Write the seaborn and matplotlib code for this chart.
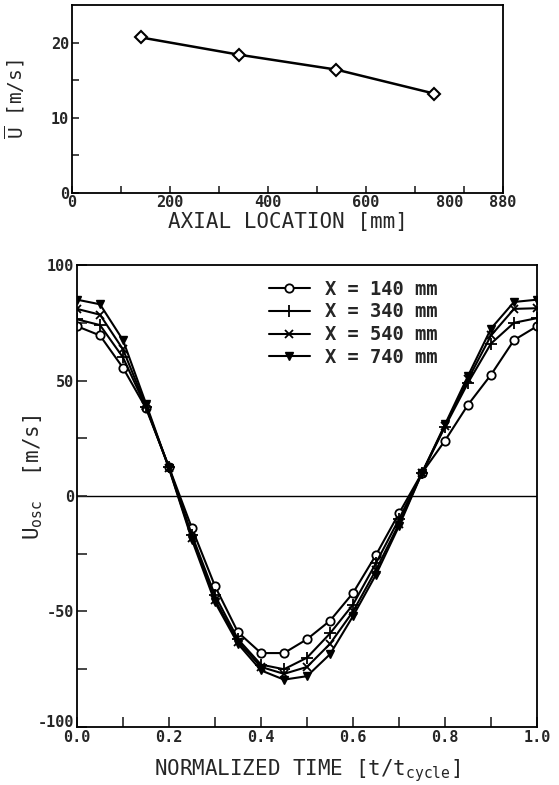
import matplotlib
matplotlib.use("Agg")
import matplotlib.pyplot as plt
import matplotlib.transforms as mtransforms
import seaborn as sns
import pandas as pd
import numpy as np
from matplotlib.ticker import MultipleLocator, FixedLocator

sns.set_theme(style="ticks")
plt.rcParams["font.family"] = ["DejaVu Sans Mono", "DejaVu Sans"]
plt.rcParams["mathtext.fontset"] = "custom"
plt.rcParams["mathtext.rm"] = "DejaVu Sans Mono"

# Mean velocity along the duct
axial_mm = [140, 340, 540, 740]
u_mean = [20.7, 18.4, 16.4, 13.2]

# Oscillating velocity over one normalized cycle
t_norm = [0.00, 0.05, 0.10, 0.15, 0.20, 0.25, 0.30, 0.35, 0.40, 0.45, 0.50,
          0.55, 0.60, 0.65, 0.70, 0.75, 0.80, 0.85, 0.90, 0.95, 1.00]
u_140 = [73.5, 69.5, 55.5, 38.0, 12.5, -14.0, -39.0, -59.0, -68.0, -68.0, -62.0,
         -54.0, -42.0, -25.5, -7.5, 10.0, 24.0, 39.5, 52.5, 67.5, 73.5]
u_340 = [76.5, 74.0, 60.0, 38.5, 12.5, -17.0, -43.0, -62.0, -73.0, -75.0, -70.0,
         -59.5, -47.0, -29.0, -10.0, 10.0, 30.0, 49.0, 66.0, 75.0, 77.0]
u_540 = [81.0, 78.5, 63.5, 39.0, 12.0, -18.0, -45.0, -63.0, -74.0, -77.0, -74.0,
         -64.0, -50.0, -32.0, -12.0, 10.0, 30.5, 50.5, 69.5, 81.0, 81.3]
u_740 = [85.0, 83.0, 67.5, 40.0, 12.0, -19.0, -46.0, -64.0, -75.5, -79.5, -78.0,
         -68.5, -52.0, -34.0, -13.0, 10.0, 31.0, 52.0, 72.5, 84.0, 85.0]
series_labels = ["X = 140 mm", "X = 340 mm", "X = 540 mm", "X = 740 mm"]

fig = plt.figure(figsize=(5.59, 7.85), dpi=100)
ax1 = fig.add_axes([0.1288, 0.7545, 0.771, 0.239])
ax2 = fig.add_axes([0.1377, 0.0739, 0.823, 0.5885])

tick_font = dict(fontsize=11, fontweight="bold")


def shift_label(label, dx_in, dy_in):
    label.set_transform(label.get_transform() +
                        mtransforms.ScaledTranslation(dx_in, dy_in, fig.dpi_scale_trans))


# ---- top panel ----
df_top = pd.DataFrame({"x": axial_mm, "u": u_mean})
sns.lineplot(data=df_top, x="x", y="u", ax=ax1, color="black", lw=1.8,
             marker="D", markersize=6.5, markerfacecolor="white",
             markeredgecolor="black", markeredgewidth=1.5)
ax1.set_xlim(0, 880)
ax1.set_ylim(0, 25)
ax1.xaxis.set_major_locator(FixedLocator([0, 200, 400, 600, 800, 880]))
ax1.xaxis.set_minor_locator(FixedLocator([100, 300, 500, 700]))
ax1.yaxis.set_major_locator(FixedLocator([0, 10, 20]))
ax1.yaxis.set_minor_locator(FixedLocator([5, 15]))
ax1.set_xticklabels(["0", "200", "400", "600", "800", "880"], **tick_font)
ax1.set_yticklabels(["0", "10", "20"], **tick_font)
ax1.tick_params(which="both", direction="in", length=5, width=1.2, pad=2)
# nudge the 800 label left so it clears the 880 end label
shift_label(ax1.get_xticklabels()[4], -0.14, 0)
ax1.set_xlabel("AXIAL LOCATION [mm]", fontsize=15, labelpad=1)
ax1.set_ylabel(r"$\overline{\rm U}$ [m/s]", fontsize=14)
ax1.yaxis.set_label_coords(-0.105, 0.5)

# ---- bottom panel ----
styles = [dict(marker="o", mfc="white", ms=6, mew=1.3),
          dict(marker="+", mfc="black", ms=8, mew=1.3),
          dict(marker="x", mfc="black", ms=6, mew=1.3),
          dict(marker="v", mfc="black", ms=6, mew=1.0)]
for vals, lab, st in zip([u_140, u_340, u_540, u_740], series_labels, styles):
    d = pd.DataFrame({"t": t_norm, "u": vals})
    sns.lineplot(data=d, x="t", y="u", ax=ax2, color="black", lw=1.5,
                 marker=st["marker"], markersize=st["ms"],
                 markerfacecolor=st["mfc"], markeredgecolor="black",
                 markeredgewidth=st["mew"], label=lab)
ax2.axhline(0, color="black", lw=1.0, zorder=0)
ax2.set_xlim(0, 1.0)
ax2.set_ylim(-100, 100)
ax2.xaxis.set_major_locator(MultipleLocator(0.2))
ax2.xaxis.set_minor_locator(MultipleLocator(0.1))
ax2.yaxis.set_major_locator(MultipleLocator(50))
ax2.yaxis.set_minor_locator(MultipleLocator(25))
ax2.set_xticks(np.arange(0, 1.01, 0.2))
ax2.set_xticklabels([f"{v:.1f}" for v in np.arange(0, 1.01, 0.2)], **tick_font)
ax2.set_yticks([-100, -50, 0, 50, 100])
ax2.set_yticklabels(["-100", "-50", "0", "50", "100"], **tick_font)
ax2.tick_params(which="both", direction="in", length=7, width=1.2, pad=2)
# lift the bottom-left y label a little above the 0.0 x label
shift_label(ax2.get_yticklabels()[0], 0, 0.06)
ax2.set_xlabel(r"NORMALIZED TIME [t/t$_{\rm cycle}$]", fontsize=15, labelpad=9)
ax2.set_ylabel(r"U$_{\rm osc}$  [m/s]", fontsize=15)
ax2.yaxis.set_label_coords(-0.07, 0.54)
leg = ax2.legend(loc="upper left", bbox_to_anchor=(0.38, 1.005), frameon=False,
                 prop=dict(size=13.5, weight="bold"), handlelength=2.2,
                 labelspacing=0.2, handletextpad=0.8)

for ax in (ax1, ax2):
    for sp in ax.spines.values():
        sp.set_linewidth(1.3)
        sp.set_color("black")
        sp.set_visible(True)

fig.savefig("out.png", dpi=100)
